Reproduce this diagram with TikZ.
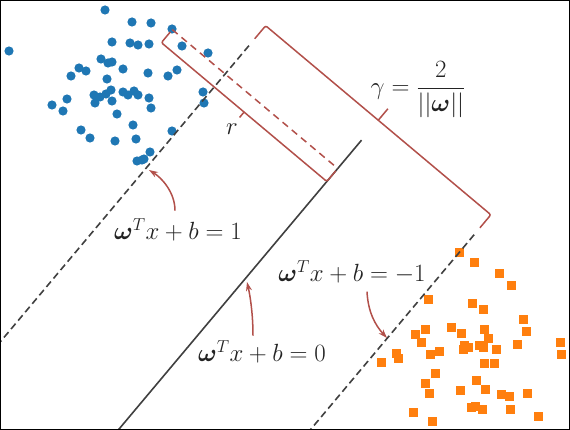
\documentclass[tikz,border=0pt]{standalone}
\usepackage{amsmath,bm}
\usetikzlibrary{arrows.meta,calc}
\definecolor{ptblue}{RGB}{31,119,180}
\definecolor{ptorange}{RGB}{255,127,14}
\definecolor{brick}{RGB}{178,80,74}
\definecolor{linegray}{RGB}{64,64,64}
\definecolor{txt}{RGB}{35,35,35}
\begin{document}
\begin{tikzpicture}[x=1pt,y=-1pt,
  hyper/.style={linegray, line width=1.6pt},
  margin/.style={linegray, line width=1.6pt, dash pattern=on 7pt off 4pt},
  bracket/.style={brick, line width=1.5pt, rounded corners=2pt},
  rdash/.style={brick, line width=1.5pt, dash pattern=on 7pt off 5pt},
  callout/.style={brick, line width=1.5pt, -{Stealth[length=9pt,width=6pt]}},
  eq/.style={text=txt, font=\fontsize{26}{30}\selectfont, inner sep=0pt}]
\useasboundingbox (0,0) rectangle (570,430);
\fill[white] (0,0) rectangle (570,430);
\begin{scope}
\clip (0,0) rectangle (570,430);
\foreach \px/\py in {105/10, 9/51, 132/22, 151/23, 172/29, 112/42, 130/43, 138/45, 149/44, 182/46, 208/53, 101/59, 108/63, 112/62, 123/69, 79/68, 86/71, 71/76, 148/73, 177/70, 168/76, 107/79, 94/95, 100/97, 106/94, 111/90, 95/103, 112/101, 123/92, 128/95, 134/91, 138/95, 149/98, 151/108, 203/92, 204/103, 67/99, 52/105, 63/111, 117/114, 133/125, 81/130, 90/138, 115/141, 136/139, 172/131, 150/152, 144/159, 137/161, 142/160}
  \fill[ptblue] (\px,\py) circle (4.6);
\foreach \px/\py in {459/253, 474/263, 499/274, 511/286, 428/299, 472/303, 483/309, 523/319, 526/331, 451/327, 461/333, 484/329, 425/329, 415/334, 421/342, 488/338, 560/342, 561/354, 517/344, 464/345, 468/347, 463/349, 479/345, 483/347, 496/349, 439/351, 430/354, 396/353, 398/358, 381/362, 484/363, 494/363, 435/373, 425/383, 476/380, 485/389, 429/393, 460/390, 501/394, 509/396, 527/393, 471/407, 475/406, 482/409, 510/409, 413/412, 432/421, 538/416}
  \fill[ptorange] (\px-4.5,\py-4.5) rectangle (\px+4.5,\py+4.5);
% rotated frame: s along the hyperplane, n across it
\begin{scope}[shift={(177pt,-360pt)}, x={(0.643pt,0.766pt)}, y={(0.766pt,-0.643pt)}]
  \draw[hyper] (287,0) -- (-130,0);
  \draw[margin] (287,-147) -- (-130,-147);
  \draw[margin] (287,147) -- (-130,147);
  \draw[bracket] (296,-147) -- (313,-147) -- (313,147) -- (296,147);
  \draw[bracket] (313,0) -- (328,0);
  \draw[rdash] (250,-216) -- (250,0);
  \draw[bracket] (247,-216) -- (233,-216) -- (233,0) -- (247,0);
  \draw[bracket] (233,-108) -- (226,-108);
\end{scope}
\end{scope}
\node[eq] (gam) at (418,90) {$\gamma=\dfrac{2}{||\bm{\omega}||}$};
\node[eq] (rlab) at (232,129) {$r$};
\node[eq] (L1) at (178,230) {$\bm{\omega}^Tx+b=1$};
\node[eq] (L0) at (262,352) {$\bm{\omega}^Tx+b=0$};
\node[eq] (Lm1) at (352,272) {$\bm{\omega}^Tx+b=-1$};
\coordinate (t1) at (149,170);
\coordinate (t0) at (247,282);
\coordinate (tm1) at (387,338);
\draw[callout] ([xshift=-3pt,yshift=8pt]L1.north) .. controls +(0,-18) and (162,178) .. (t1);
\draw[callout] ([xshift=-9pt,yshift=5pt]L0.north) .. controls +(0,-22) and (250,295) .. (t0);
\draw[callout] ([xshift=15pt,yshift=-8pt]Lm1.south) .. controls +(1,20) and (375,325) .. (tm1);
\draw[black, line width=1pt] (0.5,0.5) rectangle (569.5,429.5);
\end{tikzpicture}
\end{document}
